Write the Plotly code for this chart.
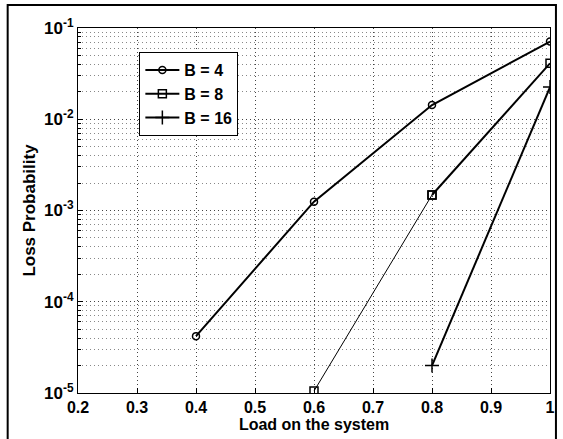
import plotly.graph_objects as go

load = [0.4, 0.6, 0.8, 1.0]
b4 = [4.2e-5, 1.25e-3, 1.43e-2, 7.1e-2]
load8 = [0.6, 0.8, 1.0]
b8 = [1.05e-5, 1.48e-3, 4.1e-2]
load16 = [0.8, 1.0]
b16 = [2.0e-5, 2.25e-2]

xticks = [0.2, 0.3, 0.4, 0.5, 0.6, 0.7, 0.8, 0.9, 1.0]
xticktext = ["0.2", "0.3", "0.4", "0.5", "0.6", "0.7", "0.8", "0.9", "1"]
yticks = [1e-5, 1e-4, 1e-3, 1e-2, 1e-1]
yticktext = ["10<sup>-5</sup>", "10<sup>-4</sup>", "10<sup>-3</sup>", "10<sup>-2</sup>", "10<sup>-1</sup>"]

FONT = "Liberation Sans, Arial, sans-serif"
GRIDDASH = "1px,3px"

fig = go.Figure()
fig.add_trace(go.Scatter(x=load, y=b4, mode="lines+markers", name="<b>B = 4</b>",
                         line=dict(color="black", width=2),
                         marker=dict(symbol="circle-open", size=7, color="black", line=dict(width=1.5))))
# B = 8: thin first segment, thick afterwards
fig.add_trace(go.Scatter(x=load8[1:], y=b8[1:], mode="lines+markers", name="<b>B = 8</b>",
                         line=dict(color="black", width=2),
                         marker=dict(symbol="square-open", size=8, color="black", line=dict(width=1.5))))
fig.add_trace(go.Scatter(x=load8[:2], y=b8[:2], mode="lines+markers", showlegend=False,
                         line=dict(color="black", width=1),
                         marker=dict(symbol="square-open", size=8, color="black", line=dict(width=1.5))))
fig.add_trace(go.Scatter(x=load16, y=b16, mode="lines+markers", name="<b>B = 16</b>",
                         line=dict(color="black", width=2),
                         marker=dict(symbol="cross-thin-open", size=10, color="black", line=dict(width=1.5))))

fig.update_layout(
    width=563, height=439,
    margin=dict(l=78, r=8, t=28, b=46),
    paper_bgcolor="white", plot_bgcolor="white",
    font=dict(family=FONT, color="black", size=15),
    showlegend=True,
    legend=dict(x=0.13, y=0.934, xanchor="left", yanchor="top",
                bordercolor="black", borderwidth=1, bgcolor="white",
                font=dict(family=FONT, size=16, color="black"),
                tracegroupgap=0, itemwidth=34),
    xaxis=dict(range=[0.2, 1.0], tickvals=xticks, ticktext=["<b>%s</b>" % t for t in xticktext],
               tickfont=dict(family=FONT, size=16, color="black"),
               showgrid=True, gridcolor="#444444", griddash=GRIDDASH, gridwidth=1,
               showline=True, linecolor="black", linewidth=1, mirror=True,
               ticks="inside", ticklen=5, tickcolor="black",
               zeroline=False,
               title=dict(text="<b>Load on the system</b>", font=dict(family=FONT, size=16), standoff=0)),
    yaxis=dict(type="log", range=[-5, -1], tickvals=yticks, ticktext=["<b>%s</b>" % t for t in yticktext],
               tickfont=dict(family=FONT, size=17, color="black"),
               showgrid=True, gridcolor="#444444", griddash=GRIDDASH, gridwidth=1,
               showline=True, linecolor="black", linewidth=1, mirror=True,
               ticks="inside", ticklen=5, tickcolor="black",
               minor=dict(dtick="D1", showgrid=True, gridcolor="#888888", griddash=GRIDDASH,
                          ticks="inside", ticklen=3, tickcolor="black"),
               title=dict(text="<b>Loss Probability</b>", font=dict(family=FONT, size=17), standoff=4)),
)

fig.add_shape(type="rect", xref="paper", yref="paper",
              x0=-0.149, x1=1.0126, y0=-0.13, y1=1.063,
              line=dict(color="black", width=2), fillcolor="rgba(0,0,0,0)", layer="above")

fig.write_html("out.html", config={"displayModeBar": False},
               post_script="document.body.style.margin='0';")
